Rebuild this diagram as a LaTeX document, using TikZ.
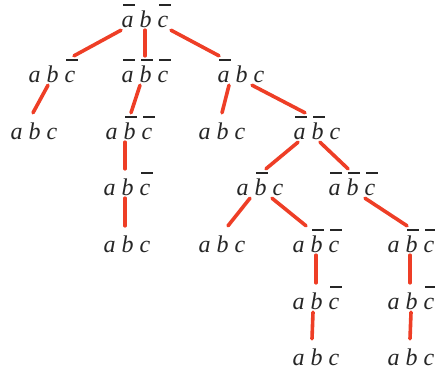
\documentclass[tikz,border=0pt]{standalone}
\usepackage{fontspec}
\setmainfont{Liberation Serif}
\usepackage{tikz}

% bar over one letter, all bars at the same height
\newcommand{\negl}[1]{\makebox[0pt][l]{\hspace{1.6pt}\rule[21.4pt]{12pt}{1.7pt}}#1}

\begin{document}
\begin{tikzpicture}[x=1pt, y=-1pt,
        setnode/.style={anchor=base, inner xsep=0pt, inner ysep=3pt, text height=23pt, text depth=0pt,
                        text=black!85, font=\fontsize{24}{28}\selectfont\itshape},
        edge/.style={draw={rgb,255:red,238;green,62;blue,38}, line width=3.6pt, line cap=round},
        ]
                \useasboundingbox (0,0) rectangle (435,372);

                \node[setnode]  at(145,27)  (1)  {\negl{a} b \negl{c}};
                \node[setnode]  at(52,82)   (2)  {a b \negl{c}};
                \node[setnode]  at(145,82)  (3)  {\negl{a} \negl{b} \negl{c}};
                \node[setnode]  at(241,82)  (4)  {\negl{a} b c};
                \node[setnode]  at(34,139)  (5)  {a b c};
                \node[setnode]  at(129,139) (6)  {a \negl{b} \negl{c}};
                \node[setnode]  at(222,139) (7)  {a b c};
                \node[setnode]  at(317,139) (8)  {\negl{a} \negl{b} c};
                \node[setnode]  at(127,195) (9)  {a b \negl{c}};
                \node[setnode]  at(260,195) (10) {a \negl{b} c};
                \node[setnode]  at(352,195) (11) {\negl{a} \negl{b} \negl{c}};
                \node[setnode]  at(127,252) (12) {a b c};
                \node[setnode]  at(222,252) (13) {a b c};
                \node[setnode]  at(316,252) (14) {a \negl{b} \negl{c}};
                \node[setnode]  at(411,252) (15) {a \negl{b} \negl{c}};
                \node[setnode]  at(316,309) (16) {a b \negl{c}};
                \node[setnode]  at(411,309) (17) {a b \negl{c}};
                \node[setnode]  at(316,365) (18) {a b c};
                \node[setnode]  at(411,365) (19) {a b c};

                \draw[edge] ([xshift=-24pt]1.south)  --  ([xshift=22pt]2.north) ;
                \draw[edge] (1.south)                --  (3.north) ;
                \draw[edge] ([xshift=26pt]1.south)   --  ([xshift=-22pt]4.north) ;
                \draw[edge] ([xshift=-4pt]2.south)   --  ([xshift=-1pt]5.north) ;
                \draw[edge] ([xshift=-5pt]3.south)   --  ([xshift=2pt]6.north) ;
                \draw[edge] ([xshift=-12pt]4.south)  --  ([xshift=0pt]7.north) ;
                \draw[edge] ([xshift=11pt]4.south)   --  ([xshift=-12pt]8.north) ;
                \draw[edge] ([xshift=-4pt]6.south)   --  ([xshift=-2pt]9.north) ;
                \draw[edge] ([xshift=-19pt]8.south)  --  ([xshift=6pt]10.north) ;
                \draw[edge] ([xshift=3pt]8.south)    --  ([xshift=-4pt]11.north) ;
                \draw[edge] ([xshift=-2pt]9.south)   --  ([xshift=-2pt]12.north) ;
                \draw[edge] ([xshift=-10pt]10.south) --  ([xshift=6pt]13.north) ;
                \draw[edge] ([xshift=12pt]10.south)  --  ([xshift=-10pt]14.north) ;
                \draw[edge] ([xshift=13pt]11.south)  --  ([xshift=-4pt]15.north) ;
                \draw[edge] (14.south)               --  (16.north) ;
                \draw[edge] ([xshift=-3pt]16.south)  --  ([xshift=-4pt]18.north) ;
                \draw[edge] ([xshift=-1pt]15.south)  --  ([xshift=-1pt]17.north) ;
                \draw[edge] (17.south)               --  ([xshift=-1pt]19.north) ;

            \end{tikzpicture}
\end{document}
